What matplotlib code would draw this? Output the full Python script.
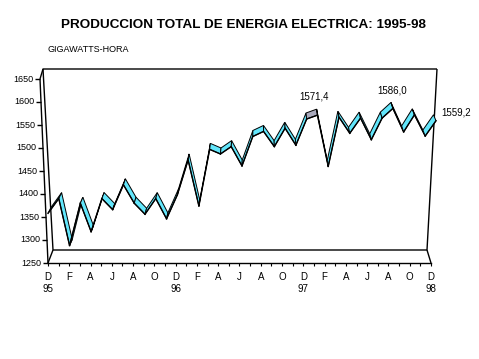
import matplotlib
matplotlib.use('Agg')
import matplotlib.pyplot as plt
from matplotlib import transforms
from matplotlib.patches import Polygon

plt.rcParams['font.family'] = ['Liberation Sans', 'DejaVu Sans']

# monthly production, Dec 1995 .. Dec 1998 (GWh)
values = [1358, 1390, 1288, 1380, 1318, 1390, 1366, 1420, 1380, 1356, 1390, 1346,
          1398, 1474, 1374, 1497, 1487, 1503, 1461, 1525, 1536, 1503, 1543, 1506,
          1563, 1571.4, 1460, 1567, 1532, 1565, 1518, 1565, 1586.0, 1535, 1572, 1526,
          1559.2]
month_letters = ['D', 'F', 'A', 'J', 'A', 'O']
year_labels = ['95', '96', '97', '98']
y_ticks = [1250, 1300, 1350, 1400, 1450, 1500, 1550, 1600, 1650]
labelled = [25, 32, 36]

title = 'PRODUCCION TOTAL DE ENERGIA ELECTRICA: 1995-98'
unit = 'GIGAWATTS-HORA'

W, H = 479, 359
fig = plt.figure(figsize=(W / 100, H / 100), dpi=100)
fig.patch.set_facecolor('white')

# pixel overlay for the box drawing
fr = fig.add_axes([0, 0, 1, 1], zorder=0)
fr.set_xlim(0, W)
fr.set_ylim(H, 0)
fr.axis('off')

n = len(values)
x0, x1, xd1, ytop, ybot = 48, 431, 436, 79, 263

# month axis on the front edge of the floor
axm = fig.add_axes([x0 / W, 1 - ybot / H, (x1 - x0) / W, (ybot - ytop) / H], zorder=1)
axm.patch.set_visible(False)
axm.set_xlim(0, n - 1)
axm.set_yticks([])
for s in ['top', 'right', 'left']:
    axm.spines[s].set_visible(False)
axm.spines['bottom'].set_linewidth(1.0)

# data plane (a little wider than the floor edge, it sits in front)
ax = fig.add_axes([x0 / W, 1 - ybot / H, (xd1 - x0) / W, (ybot - ytop) / H], zorder=2)
ax.patch.set_visible(False)
ax.set_xlim(0, n - 1)
ax.set_ylim(y_ticks[0], y_ticks[-1])
ax.axis('off')

# back wall / floor outline
lk = dict(color='black', lw=1.0, solid_capstyle='butt')
fr.plot([40, 43, 437], [79, 69, 69], **lk)
fr.plot([43, 53, 427, 437], [69, 250, 250, 69], **lk)
fr.plot([48, 53], [263, 250], **lk)
fr.plot([427, 431], [250, 263], **lk)

# slanted value axis
bt = transforms.blended_transform_factory(ax.transAxes, ax.transData)
px = 1 / (xd1 - x0)
slant = -8 * px
def axis_x(v):
    return slant * (v - y_ticks[0]) / (y_ticks[-1] - y_ticks[0])
ax.plot([axis_x(y_ticks[0]), axis_x(y_ticks[-1])], [y_ticks[0], y_ticks[-1]],
        transform=bt, clip_on=False, **lk)
for v in y_ticks:
    ax.plot([axis_x(v) - 5 * px, axis_x(v)], [v, v], transform=bt, clip_on=False, **lk)
    ax.text(axis_x(v) - 6.5 * px, v, str(v), transform=bt, ha='right', va='center',
            fontsize=6.5)

# month ticks
xt = list(range(n))
xl = []
for i in xt:
    if i % 2:
        xl.append('')
    else:
        s = month_letters[(i // 2) % 6]
        if i % 12 == 0:
            s += '\n' + year_labels[i // 12]
        xl.append(s)
axm.set_xticks(xt)
axm.set_xticklabels(xl, fontsize=7, linespacing=1.3)
axm.tick_params(axis='x', direction='out', length=2.2, width=0.8, pad=4)

# ribbon, depth leans toward the middle of the chart (perspective)
sx = (n - 1) / (xd1 - x0)
sy = (y_ticks[-1] - y_ticks[0]) / (ybot - ytop)
depth_up = 6
def depth_dx(i):
    return 3.0 - 5.5 * i / (n - 1)
cyan = '#62E6FB'
grey = '#A9A9BC'
hl_seg = 24
for i in range(n - 1):
    a, b = values[i], values[i + 1]
    quad = [(i, a), (i + 1, b),
            (i + 1 + depth_dx(i + 1) * sx, b + depth_up * sy),
            (i + depth_dx(i) * sx, a + depth_up * sy)]
    fc = grey if i == hl_seg else cyan
    ax.add_patch(Polygon(quad, closed=True, fc=fc, ec='black', lw=0.7,
                         clip_on=False, zorder=2 + i * 0.01))
    ax.plot([i, i + 1], [a, b], color='black', lw=1.0, clip_on=False,
            zorder=2.005 + i * 0.01)

offsets = {25: (-3, 19, 'center'), 32: (-1, 18, 'center'), 36: (5, 8, 'left')}
for i in labelled:
    dx, dy, ha = offsets[i]
    ax.annotate(f'{values[i]:.1f}'.replace('.', ','), (i, values[i]), xytext=(dx, dy),
                textcoords='offset pixels', ha=ha, va='center', fontsize=7,
                annotation_clip=False)

fig.text(243.5 / W, 1 - 25 / H, title, ha='center', va='center', fontsize=9.7,
         fontweight='bold')
fig.text(48 / W, 1 - 50 / H, unit, ha='left', va='center', fontsize=6.5)

fig.savefig('out.png', dpi=100, facecolor='white')
